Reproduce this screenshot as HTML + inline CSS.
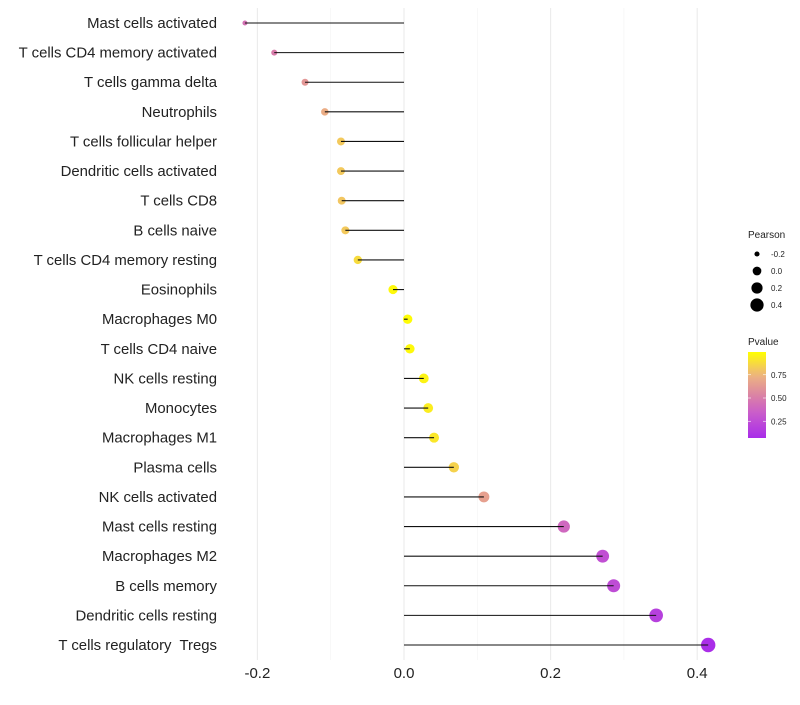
<!DOCTYPE html>
<html><head><meta charset="utf-8"><style>
body{margin:0;background:#fff;font-family:"Liberation Sans",sans-serif}
</style></head><body>
<svg id="chart" width="800" height="700" xmlns="http://www.w3.org/2000/svg"></svg>
<script>
const categories=["Mast cells activated","T cells CD4 memory activated","T cells gamma delta","Neutrophils","T cells follicular helper","Dendritic cells activated","T cells CD8","B cells naive","T cells CD4 memory resting","Eosinophils","Macrophages M0","T cells CD4 naive","NK cells resting","Monocytes","Macrophages M1","Plasma cells","NK cells activated","Mast cells resting","Macrophages M2","B cells memory","Dendritic cells resting","T cells regulatory  Tregs"];
const pearson=[-0.217,-0.177,-0.135,-0.108,-0.086,-0.086,-0.085,-0.080,-0.063,-0.015,0.005,0.008,0.027,0.033,0.041,0.068,0.109,0.218,0.271,0.286,0.344,0.415];
const pvalues=[0.45,0.5,0.62,0.72,0.82,0.82,0.81,0.82,0.88,0.98,0.99,0.98,0.96,0.94,0.92,0.85,0.66,0.4,0.27,0.25,0.18,0.08];
const xTicks=[-0.2,0,0.2,0.4];
const xTickLabels=["-0.2","0.0","0.2","0.4"];
const minorTicks=[-0.1,0.1,0.3];
const sizeLegendValues=[-0.2,0,0.2,0.4];
const colorLegendTicks=[0.25,0.5,0.75];

const NS="http://www.w3.org/2000/svg";
const svg=document.getElementById('chart');
const xs=v=>404+v*733;
const ys=i=>23+i*(645-23)/(categories.length-1);
const rs=v=>Math.sqrt(Math.max(1,7.5+(v+0.2)*72));
const stops=[[0,[160,32,240]],[0.33,[200,90,205]],[0.5,[216,124,170]],[0.75,[238,180,128]],[1,[255,255,0]]];
function col(p){for(let i=1;i<stops.length;i++){if(p<=stops[i][0]||i==stops.length-1){const a=stops[i-1],b=stops[i];let t=(p-a[0])/(b[0]-a[0]);t=Math.max(0,Math.min(1,t));const c=a[1].map((x,k)=>Math.round(x+(b[1][k]-x)*t));return `rgb(${c})`;}}}
function el(tag,attrs,text){const e=document.createElementNS(NS,tag);for(const k in attrs)e.setAttribute(k,attrs[k]);if(text!==undefined)e.textContent=text;svg.appendChild(e);return e;}

minorTicks.forEach(v=>{const l=el('line',{x1:xs(v),x2:xs(v),y1:8,y2:660,stroke:'#f2f2f2','stroke-width':0.6});

});
xTicks.forEach((v,i)=>{const l=el('line',{x1:xs(v),x2:xs(v),y1:8,y2:660,stroke:'#ebebeb','stroke-width':1.1});


const t=el('text',{x:xs(v),y:678,'text-anchor':'middle','font-size':15,fill:'#222'},xTickLabels[i]);

});
categories.forEach((c,i)=>{const y=ys(i);
const t=el('text',{x:217,y:y+5,'text-anchor':'end','font-size':14.9,fill:'#222','xml:space':'preserve',style:'white-space:pre'},c);


const d=el('circle',{cx:xs(pearson[i]),cy:y,r:rs(pearson[i]),fill:col(pvalues[i])});


const l=el('line',{x1:xs(0),x2:xs(pearson[i]),y1:y,y2:y,stroke:'#111','stroke-width':1.1});

});

const lt=el('text',{x:748,y:238,'font-size':10,fill:'#222'},'Pearson');


sizeLegendValues.forEach((v,i)=>{const y=254+i*17;
const c=el('circle',{cx:757,cy:y,r:rs(v)*0.93,fill:'#000'});


const t=el('text',{x:771,y:y+3,'font-size':8,fill:'#222'},v.toFixed(1));

});

const pt=el('text',{x:748,y:345,'font-size':10,fill:'#222'},'Pvalue');


const defs=el('defs',{});
const g=document.createElementNS(NS,'linearGradient');g.setAttribute('id','pg');g.setAttribute('x1',0);g.setAttribute('y1',1);g.setAttribute('x2',0);g.setAttribute('y2',0);defs.appendChild(g);
for(let k=0;k<=10;k++){const s=document.createElementNS(NS,'stop');const p=0.07+k*0.093;s.setAttribute('offset',k/10);s.setAttribute('stop-color',col(p));g.appendChild(s);}
const bar=el('rect',{x:748,y:352,width:18,height:86,fill:'url(#pg)'});


const py=p=>398-(p-0.5)*93;
colorLegendTicks.forEach(p=>{
const t=el('text',{x:771,y:py(p)+3,'font-size':8,fill:'#222'},p.toFixed(2));


el('line',{x1:748,x2:751,y1:py(p),y2:py(p),stroke:'#fff','stroke-width':0.6});
el('line',{x1:763,x2:766,y1:py(p),y2:py(p),stroke:'#fff','stroke-width':0.6});});
</script>
</body></html>
